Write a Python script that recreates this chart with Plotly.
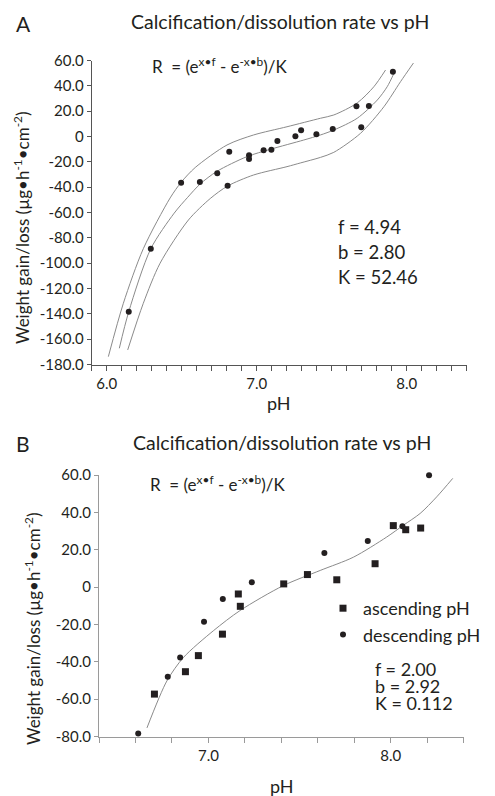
import plotly.graph_objects as go

W, H = 495, 796

# --- panel A data ---
a_ph = [7.908, 7.665, 7.748, 7.697, 7.507, 7.398, 7.296, 7.258, 7.138, 7.098,
        7.046, 6.949, 6.949, 6.817, 6.737, 6.621, 6.496, 6.806, 6.294, 6.147]
a_rate = [51.2, 23.8, 24.1, 7.3, 5.9, 1.7, 4.9, 0.2, -3.6, -10.4,
          -10.9, -14.8, -17.8, -12.0, -29.1, -35.9, -36.5, -38.8, -88.6, -138.3]

# fitted curve and the two bounding curves
fit_ph = [6.084, 6.147, 6.294, 6.450, 6.540, 6.623, 6.735, 6.935, 7.091, 7.313,
          7.425, 7.514, 7.670, 7.804, 7.870, 7.915]
fit_rate = [-167.2, -138.3, -88.6, -60.5, -48.0, -37.5, -27.5, -15.9, -10.1, -2.8,
            1.2, 5.1, 14.4, 28.8, 39.3, 49.9]
up_ph = [6.011, 6.111, 6.244, 6.423, 6.496, 6.590, 6.802, 6.979, 7.202,
         7.425, 7.514, 7.670, 7.781, 7.859]
up_rate = [-173.8, -131.7, -88.6, -48.5, -36.2, -24.5, -6.7, 1.2, 7.7,
           14.4, 17.0, 26.5, 39.3, 52.5]
lo_ph = [6.140, 6.244, 6.356, 6.545, 6.690, 6.806, 6.979, 7.202, 7.291, 7.425,
         7.514, 7.692, 7.848, 7.959, 8.045]
lo_rate = [-168.5, -131.7, -100.0, -65.9, -49.0, -39.1, -30.4, -23.8, -20.9, -16.5,
           -12.5, 2.5, 23.5, 43.3, 58.0]

# --- panel B data ---
desc_ph = [8.210, 8.064, 7.874, 7.636, 7.238, 7.079, 6.976, 6.845, 6.777, 6.615]
desc_rate = [59.9, 32.5, 24.6, 18.2, 2.6, -6.4, -18.5, -37.7, -48.0, -78.4]
asc_ph = [8.014, 8.082, 8.164, 7.914, 7.704, 7.543, 7.413, 7.164, 7.175, 7.077,
          6.945, 6.874, 6.704]
asc_rate = [32.9, 30.7, 31.6, 12.5, 3.9, 6.7, 1.7, -3.7, -10.3, -25.2,
            -36.7, -45.3, -57.3]
b_fit_ph = [6.663, 6.772, 6.863, 7.027, 7.173, 7.411, 7.613, 7.795, 7.978, 8.069,
            8.161, 8.252, 8.340]
b_fit_rate = [-75.4, -50.3, -37.7, -23.4, -12.6, 0.8, 8.9, 16.0, 26.8, 33.1,
              39.4, 48.3, 58.2]

a_yticks = list(range(-180, 61, 20))
b_yticks = list(range(-80, 61, 20))
a_xticks = [6.0, 7.0, 8.0]
b_xticks = [7.0, 8.0]


def px(x):
    return x / W


def py(y):
    return 1 - y / H


def lab(v):
    return "0" if v == 0 else f"{v:.1f}"


FONT = "Lato"
INK = "#231f20"
CURVE = "#8a8a8a"

fig = go.Figure()

for xs, ys in [(up_ph, up_rate), (fit_ph, fit_rate), (lo_ph, lo_rate)]:
    fig.add_trace(go.Scatter(x=xs, y=ys, mode="lines",
                             line=dict(color=CURVE, width=1, shape="spline", smoothing=0.8),
                             showlegend=False, hoverinfo="skip"))
fig.add_trace(go.Scatter(x=a_ph, y=a_rate, mode="markers", marker=dict(color=INK, size=6),
                         showlegend=False, cliponaxis=False))

fig.add_trace(go.Scatter(x=b_fit_ph, y=b_fit_rate, mode="lines", xaxis="x2", yaxis="y2",
                         line=dict(color=CURVE, width=1, shape="spline", smoothing=0.8),
                         showlegend=False, hoverinfo="skip"))
fig.add_trace(go.Scatter(x=asc_ph, y=asc_rate, mode="markers", xaxis="x2", yaxis="y2", name="ascending pH",
                         marker=dict(color=INK, size=7, symbol="square"), legendgroup="a", cliponaxis=False))
fig.add_trace(go.Scatter(x=desc_ph, y=desc_rate, mode="markers", xaxis="x2", yaxis="y2", name="descending pH",
                         marker=dict(color=INK, size=6), legendgroup="d", cliponaxis=False))

axis_common = dict(showgrid=False, zeroline=False, showline=True, ticks="outside", ticklen=5,
                   tickwidth=1, automargin=False, tickfont=dict(family=FONT, size=15, color=INK))

fig.update_layout(
    width=W, height=H, autosize=False,
    margin=dict(l=0, r=0, t=0, b=0, pad=0),
    paper_bgcolor="white", plot_bgcolor="white",
    font=dict(family=FONT, color=INK),
    xaxis=dict(axis_common, domain=[px(91.7), px(466.7)], range=[5.9, 8.4], anchor="y",
               linecolor="#555", tickcolor="#555",
               tickvals=a_xticks, ticktext=[f"{v:.1f}" for v in a_xticks],
               minor=dict(dtick=0.1, tick0=5.9, ticks="outside", ticklen=5, tickcolor="#555")),
    yaxis=dict(axis_common, domain=[py(364.5), py(60.5)], range=[-180, 60], anchor="x",
               linecolor="#555", tickcolor="#555", ticklen=4,
               tickvals=a_yticks, ticktext=[lab(v) for v in a_yticks]),
    xaxis2=dict(axis_common, domain=[px(99), px(463.7)], range=[6.4, 8.4], anchor="y2",
                linecolor="#9a9a9a", tickcolor="#9a9a9a",
                tickvals=b_xticks, ticktext=[f"{v:.1f}" for v in b_xticks],
                minor=dict(dtick=0.2, tick0=6.4, ticks="outside", ticklen=5, tickcolor="#9a9a9a")),
    yaxis2=dict(axis_common, domain=[py(736.5), py(475)], range=[-80, 60], anchor="x2",
                linecolor="#9a9a9a", tickcolor="#9a9a9a", ticklen=4,
                tickvals=b_yticks, ticktext=[lab(v) for v in b_yticks]),
    legend=dict(x=px(323), y=py(590), xanchor="left", yanchor="top",
                font=dict(family=FONT, size=18, color=INK), bgcolor="rgba(0,0,0,0)",
                traceorder="grouped", tracegroupgap=0),
)

ann = [
    dict(text="A", x=23, y=23, size=21, xa="center"),
    dict(text="B", x=23, y=443, size=21, xa="center"),
    dict(text="Calcification/dissolution rate vs pH", x=280, y=22, size=19.5, xa="center"),
    dict(text="Calcification/dissolution rate vs pH", x=282, y=442, size=19.5, xa="center"),
    dict(text="R  = (e<sup>x•f</sup> - e<sup>-x•b</sup>)/K", x=150, y=65, size=17, xa="left"),
    dict(text="R  = (e<sup>x•f</sup> - e<sup>-x•b</sup>)/K", x=148, y=483, size=17, xa="left"),
    dict(text="f = 4.94", x=336, y=227, size=18.5, xa="left"),
    dict(text="b = 2.80", x=336, y=252, size=18.5, xa="left"),
    dict(text="K = 52.46", x=336, y=277, size=18.5, xa="left"),
    dict(text="f = 2.00", x=373, y=669, size=18, xa="left"),
    dict(text="b = 2.92", x=373, y=686, size=18, xa="left"),
    dict(text="K = 0.112", x=373, y=703, size=18, xa="left"),
    dict(text="pH", x=279, y=403, size=18, xa="center"),
    dict(text="pH", x=282, y=786, size=18, xa="center"),
]
for a in ann:
    fig.add_annotation(text=a["text"], x=px(a["x"]), y=py(a["y"]), xref="paper", yref="paper",
                       xanchor=a["xa"], yanchor="middle", showarrow=False,
                       font=dict(family=FONT, size=a["size"], color=INK))

# rotated y titles (anchor offset compensated by hand)
ytitle = "Weight gain/loss (µg•h<sup>-1</sup>•cm<sup>-2</sup>)"
for x, y, s in [(21, 228, 17), (32, 629, 17)]:
    fig.add_annotation(text=ytitle, x=px(x), y=py(y), xref="paper", yref="paper", textangle=-90,
                       xanchor="center", yanchor="middle", showarrow=False,
                       font=dict(family=FONT, size=s, color=INK))

fig.write_html("out.html", config={"displayModeBar": False},
               post_script="document.body.style.margin='0';")
